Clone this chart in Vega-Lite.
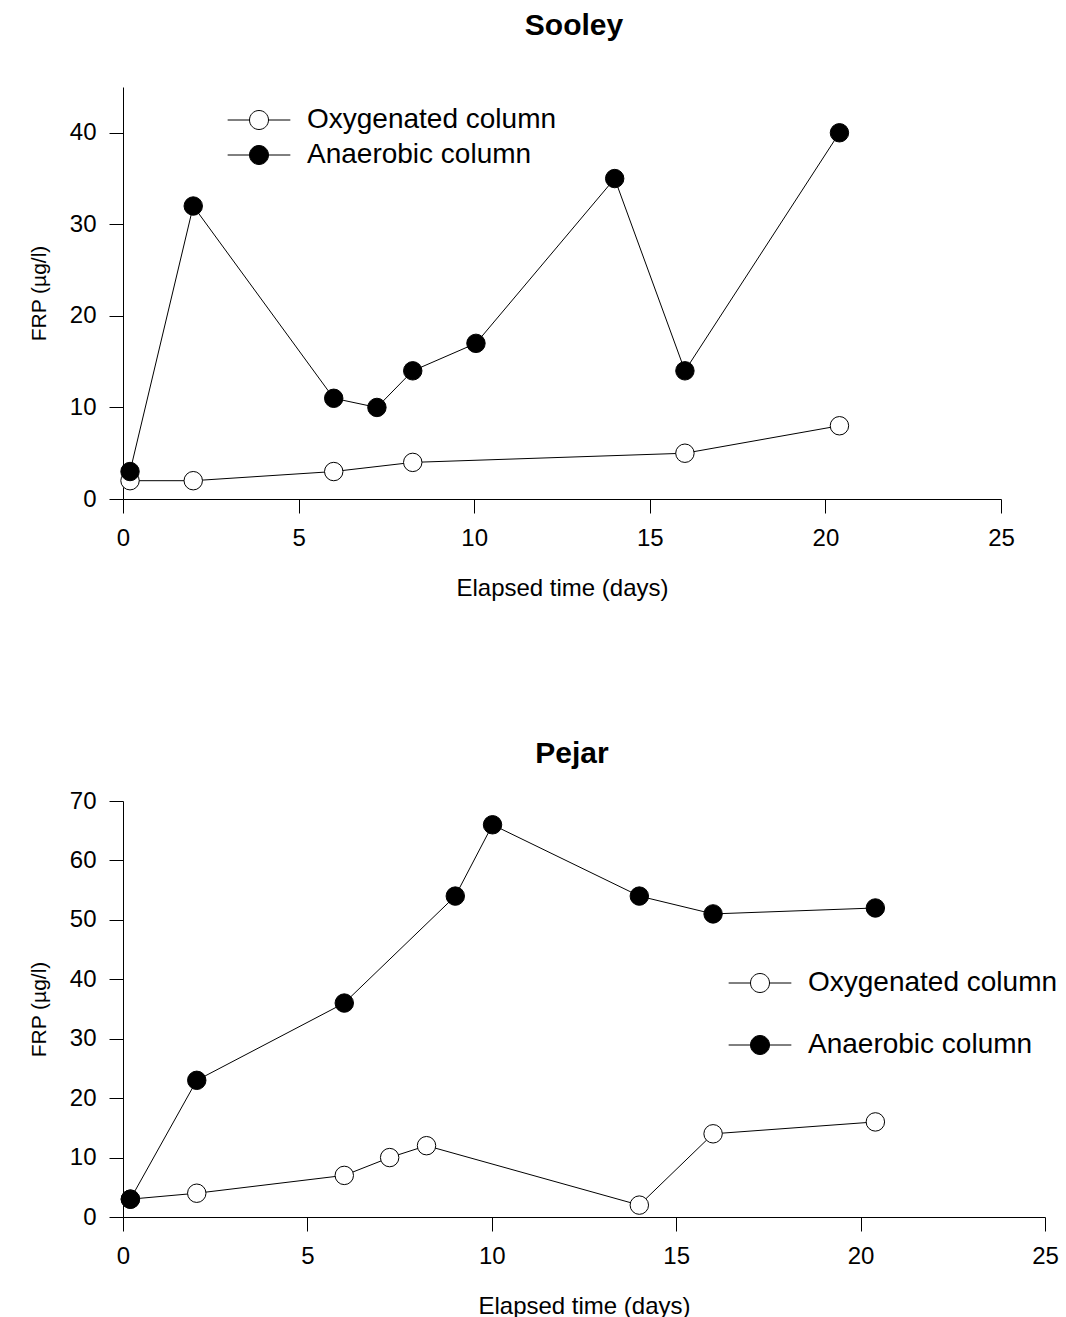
{
  "$schema": "https://vega.github.io/schema/vega-lite/v6.json",
  "background": "white",
  "padding": {"left": 28, "top": 11, "right": 5, "bottom": 5},
  "spacing": 139,
  "config": {
    "view": {"stroke": null},
    "font": "Liberation Sans",
    "axis": {
      "grid": false,
      "labelFlush": false,
      "domainColor": "black",
      "tickColor": "black",
      "labelColor": "black",
      "titleColor": "black",
      "tickSize": 14,
      "labelFontSize": 24,
      "labelFont": "Liberation Sans",
      "titleFont": "Liberation Sans",
      "titleFontWeight": "normal"
    },
    "axisX": {"labelPadding": 13, "titleFontSize": 24, "titlePadding": 26},
    "axisY": {"labelPadding": 13, "titleFontSize": 21, "titlePadding": 20},
    "title": {"fontSize": 30, "font": "Liberation Sans", "fontWeight": "bold", "color": "black"},
    "legend": {
      "orient": "none",
      "title": null,
      "padding": 0,
      "symbolType": "M -3.3 0 L -1 0 M 1 0 L 3.3 0 M -1 0 A 1 1 0 1 0 1 0 A 1 1 0 1 0 -1 0",
      "symbolSize": 361,
      "symbolStrokeColor": "black",
      "symbolStrokeWidth": 1,
      "labelFontSize": 28,
      "labelFont": "Liberation Sans",
      "labelColor": "black",
      "labelOffset": 34,
      "labelLimit": 0
    }
  },
  "datasets": {
    "sooley": [
      {"series": "Oxygenated column", "day": 0.2, "frp": 2},
      {"series": "Oxygenated column", "day": 2, "frp": 2},
      {"series": "Oxygenated column", "day": 6, "frp": 3},
      {"series": "Oxygenated column", "day": 8.25, "frp": 4},
      {"series": "Oxygenated column", "day": 16, "frp": 5},
      {"series": "Oxygenated column", "day": 20.4, "frp": 8},
      {"series": "Anaerobic column", "day": 0.2, "frp": 3},
      {"series": "Anaerobic column", "day": 2, "frp": 32},
      {"series": "Anaerobic column", "day": 6, "frp": 11},
      {"series": "Anaerobic column", "day": 7.23, "frp": 10},
      {"series": "Anaerobic column", "day": 8.25, "frp": 14},
      {"series": "Anaerobic column", "day": 10.05, "frp": 17},
      {"series": "Anaerobic column", "day": 14, "frp": 35},
      {"series": "Anaerobic column", "day": 16, "frp": 14},
      {"series": "Anaerobic column", "day": 20.4, "frp": 40}
    ],
    "pejar": [
      {"series": "Oxygenated column", "day": 0.2, "frp": 3},
      {"series": "Oxygenated column", "day": 2, "frp": 4},
      {"series": "Oxygenated column", "day": 6, "frp": 7},
      {"series": "Oxygenated column", "day": 7.23, "frp": 10},
      {"series": "Oxygenated column", "day": 8.23, "frp": 12},
      {"series": "Oxygenated column", "day": 14, "frp": 2},
      {"series": "Oxygenated column", "day": 16, "frp": 14},
      {"series": "Oxygenated column", "day": 20.4, "frp": 16},
      {"series": "Anaerobic column", "day": 0.2, "frp": 3},
      {"series": "Anaerobic column", "day": 2, "frp": 23},
      {"series": "Anaerobic column", "day": 6, "frp": 36},
      {"series": "Anaerobic column", "day": 9.01, "frp": 54},
      {"series": "Anaerobic column", "day": 10.02, "frp": 66},
      {"series": "Anaerobic column", "day": 14, "frp": 54},
      {"series": "Anaerobic column", "day": 16, "frp": 51},
      {"series": "Anaerobic column", "day": 20.4, "frp": 52}
    ]
  },
  "vconcat": [
    {
      "title": {"text": "Sooley", "dx": 12, "offset": 46},
      "width": 878,
      "height": 412,
      "data": {"name": "sooley"},
      "layer": [
        {
          "mark": {"type": "line", "color": "black", "strokeWidth": 1},
          "encoding": {
            "x": {"field": "day", "type": "quantitative", "scale": {"domain": [0, 25], "nice": false, "zero": false}, "axis": {"values": [0, 5, 10, 15, 20, 25], "title": "Elapsed time (days)"}},
            "y": {"field": "frp", "type": "quantitative", "scale": {"domain": [0, 45], "nice": false}, "axis": {"values": [0, 10, 20, 30, 40], "title": "FRP (µg/l)"}},
            "detail": {"field": "series"}
          }
        },
        {
          "mark": {"type": "point", "filled": true, "stroke": "black", "strokeWidth": 1, "opacity": 1, "size": 340},
          "encoding": {
            "x": {"field": "day", "type": "quantitative"},
            "y": {"field": "frp", "type": "quantitative"},
            "fill": {
              "field": "series", "type": "nominal",
              "scale": {"domain": ["Oxygenated column", "Anaerobic column"], "range": ["white", "black"]},
              "legend": {"legendX": 122, "legendY": 19, "rowPadding": 7}
            }
          }
        }
      ]
    },
    {
      "title": {"text": "Pejar", "dx": -12, "offset": 20},
      "width": 922,
      "height": 416,
      "data": {"name": "pejar"},
      "layer": [
        {
          "mark": {"type": "line", "color": "black", "strokeWidth": 1},
          "encoding": {
            "x": {"field": "day", "type": "quantitative", "scale": {"domain": [0, 25], "nice": false, "zero": false}, "axis": {"values": [0, 5, 10, 15, 20, 25], "title": "Elapsed time (days)"}},
            "y": {"field": "frp", "type": "quantitative", "scale": {"domain": [0, 70], "nice": false}, "axis": {"values": [0, 10, 20, 30, 40, 50, 60, 70], "title": "FRP (µg/l)"}},
            "detail": {"field": "series"}
          }
        },
        {
          "mark": {"type": "point", "filled": true, "stroke": "black", "strokeWidth": 1, "opacity": 1, "size": 340},
          "encoding": {
            "x": {"field": "day", "type": "quantitative"},
            "y": {"field": "frp", "type": "quantitative"},
            "fill": {
              "field": "series", "type": "nominal",
              "scale": {"domain": ["Oxygenated column", "Anaerobic column"], "range": ["white", "black"]},
              "legend": {"legendX": 623, "legendY": 168, "rowPadding": 34}
            }
          }
        }
      ]
    }
  ],
  "resolve": {"scale": {"fill": "independent"}, "legend": {"fill": "independent"}}
}
